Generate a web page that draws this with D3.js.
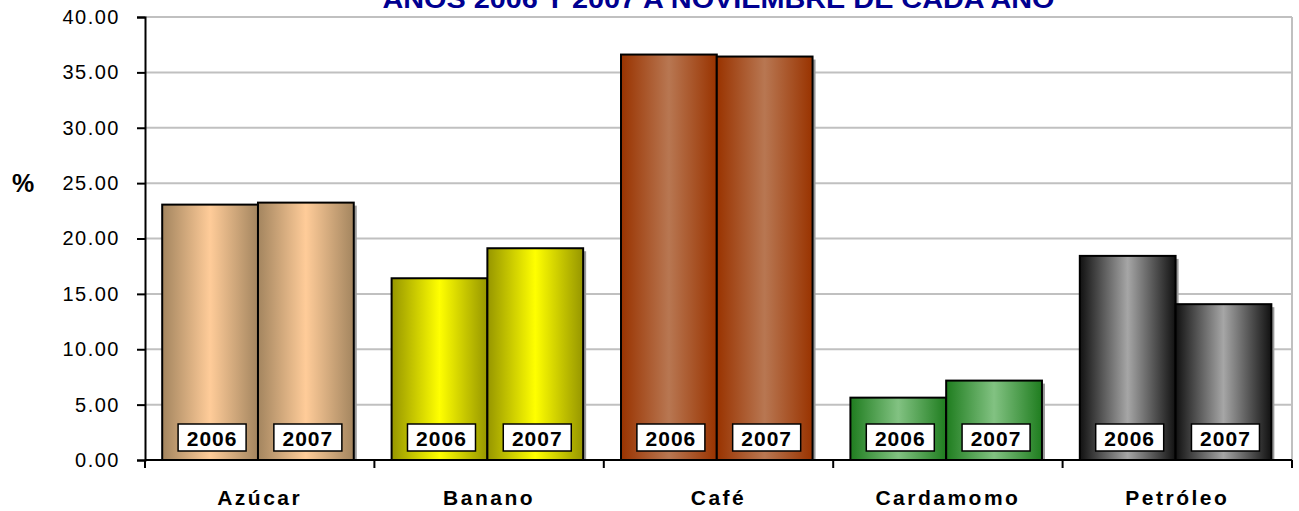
<!DOCTYPE html>
<html>
<head>
<meta charset="utf-8">
<script src="https://cdn.jsdelivr.net/npm/d3@7"></script>
<style>
  body { margin: 0; background: #fff; }
  text { font-family: Arial, "Liberation Sans", sans-serif; }
</style>
</head>
<body>
<script>
const width = 1299;
const height = 511;

const categories = ['Azúcar', 'Banano', 'Café', 'Cardamomo', 'Petróleo'];
const years = ['2006', '2007'];
const values2006 = [23.06, 16.41, 36.61, 5.63, 18.43];
const values2007 = [23.24, 19.12, 36.43, 7.17, 14.07];
const yTicks = [0, 5, 10, 15, 20, 25, 30, 35, 40];

// light centre / dark edge of each category's bars
const lightColors = ['#ffcc99', '#ffff00', '#b87752', '#82c282', '#a6a6a6'];
const darkColors = ['#a3855f', '#969600', '#993300', '#1f7d1f', '#111111'];

const plotLeft = 145, plotRight = 1292, plotTop = 17, plotBottom = 460;

const svg = d3.select('body')
    .append('svg')
    .attr('width', width)
    .attr('height', height);

const defs = svg.append('defs');
categories.forEach((c, i) => {
    const g = defs.append('linearGradient')
        .attr('id', 'grad' + i)
        .attr('x1', '0%').attr('x2', '100%')
        .attr('y1', '0%').attr('y2', '0%');
    g.append('stop').attr('offset', '0%').attr('stop-color', darkColors[i]);
    g.append('stop').attr('offset', '50%').attr('stop-color', lightColors[i]);
    g.append('stop').attr('offset', '100%').attr('stop-color', darkColors[i]);
});

const x0 = d3.scaleBand()
    .domain(categories)
    .range([plotLeft, plotRight])
    .padding(0);

const x1 = d3.scaleBand()
    .domain(years)
    .range([x0.bandwidth() * 0.075, x0.bandwidth() * 0.91])
    .padding(0);

const y = d3.scaleLinear()
    .domain([0, 40])
    .range([plotBottom, plotTop]);

// gridlines
svg.append('g')
    .selectAll('line')
    .data(yTicks.filter(d => d > 0))
    .enter()
    .append('line')
    .attr('x1', plotLeft)
    .attr('x2', plotRight)
    .attr('y1', d => y(d))
    .attr('y2', d => y(d))
    .attr('stroke', '#c0c0c0')
    .attr('stroke-width', 2);

svg.append('line')
    .attr('x1', plotRight).attr('x2', plotRight)
    .attr('y1', plotTop).attr('y2', plotBottom)
    .attr('stroke', '#c0c0c0')
    .attr('stroke-width', 2);

// title (cut off at the top, as in the picture)
svg.append('text')
    .attr('x', (plotLeft + plotRight) / 2)
    .attr('y', 8)
    .attr('text-anchor', 'middle')
    .attr('font-size', 26)
    .attr('font-weight', 'bold')
    .attr('fill', '#000090')
    .attr('textLength', 672)
    .attr('lengthAdjust', 'spacingAndGlyphs')
    .text('AÑOS 2006 Y 2007 A NOVIEMBRE DE CADA AÑO');

const rows = [];
categories.forEach((c, i) => {
    rows.push({ cat: c, i: i, year: '2006', value: values2006[i] });
    rows.push({ cat: c, i: i, year: '2007', value: values2007[i] });
});

const bars = svg.append('g')
    .selectAll('g')
    .data(rows)
    .enter()
    .append('g')
    .attr('transform', d => `translate(${x0(d.cat) + x1(d.year)},0)`);

// slight shadow
bars.append('rect')
    .attr('x', 3)
    .attr('y', d => y(d.value) + 3)
    .attr('width', x1.bandwidth())
    .attr('height', d => plotBottom - y(d.value) - 3)
    .attr('fill', '#9a9a9a');

bars.append('rect')
    .attr('x', 0)
    .attr('y', d => y(d.value))
    .attr('width', x1.bandwidth())
    .attr('height', d => plotBottom - y(d.value))
    .attr('fill', d => `url(#grad${d.i})`)
    .attr('stroke', '#000')
    .attr('stroke-width', 2);

// year labels in white boxes
const boxW = 68, boxH = 27;
bars.append('rect')
    .attr('x', x1.bandwidth() / 2 - boxW / 2 + 2)
    .attr('y', 424)
    .attr('width', boxW)
    .attr('height', boxH)
    .attr('fill', '#fff')
    .attr('stroke', '#000')
    .attr('stroke-width', 1.5);

bars.append('text')
    .attr('x', x1.bandwidth() / 2 + 2)
    .attr('y', 446)
    .attr('text-anchor', 'middle')
    .attr('font-size', 21)
    .attr('font-weight', 'bold')
    .attr('letter-spacing', 1)
    .text(d => d.year);

// axes
const yAxis = d3.axisLeft(y)
    .tickValues(yTicks)
    .tickSize(8)
    .tickFormat(d3.format('.2f'));

const gy = svg.append('g')
    .attr('transform', `translate(${plotLeft},0)`)
    .call(yAxis);
gy.select('.domain').attr('stroke', '#000').attr('stroke-width', 2);
gy.selectAll('.tick line').attr('stroke', '#000').attr('stroke-width', 2);
gy.selectAll('.tick text')
    .attr('x', -25)
    .attr('font-size', 20)
    .attr('letter-spacing', 1.5)
    .attr('fill', '#000')
    .style('font-family', 'Arial, "Liberation Sans", sans-serif');

svg.append('line')
    .attr('x1', plotLeft).attr('x2', plotRight)
    .attr('y1', plotBottom).attr('y2', plotBottom)
    .attr('stroke', '#000')
    .attr('stroke-width', 2);

svg.append('g')
    .selectAll('line')
    .data(categories.concat(['end']))
    .enter()
    .append('line')
    .attr('x1', (d, i) => plotLeft + i * x0.step())
    .attr('x2', (d, i) => plotLeft + i * x0.step())
    .attr('y1', plotBottom)
    .attr('y2', plotBottom + 8)
    .attr('stroke', '#000')
    .attr('stroke-width', 2);

svg.append('g')
    .selectAll('text')
    .data(categories)
    .enter()
    .append('text')
    .attr('x', d => x0(d) + x0.bandwidth() / 2)
    .attr('y', 505)
    .attr('text-anchor', 'middle')
    .attr('font-size', 21)
    .attr('font-weight', 'bold')
    .attr('letter-spacing', 2.5)
    .text(d => d);

svg.append('text')
    .attr('x', 12)
    .attr('y', 192)
    .attr('font-size', 25)
    .attr('font-weight', 'bold')
    .text('%');
</script>
</body>
</html>
